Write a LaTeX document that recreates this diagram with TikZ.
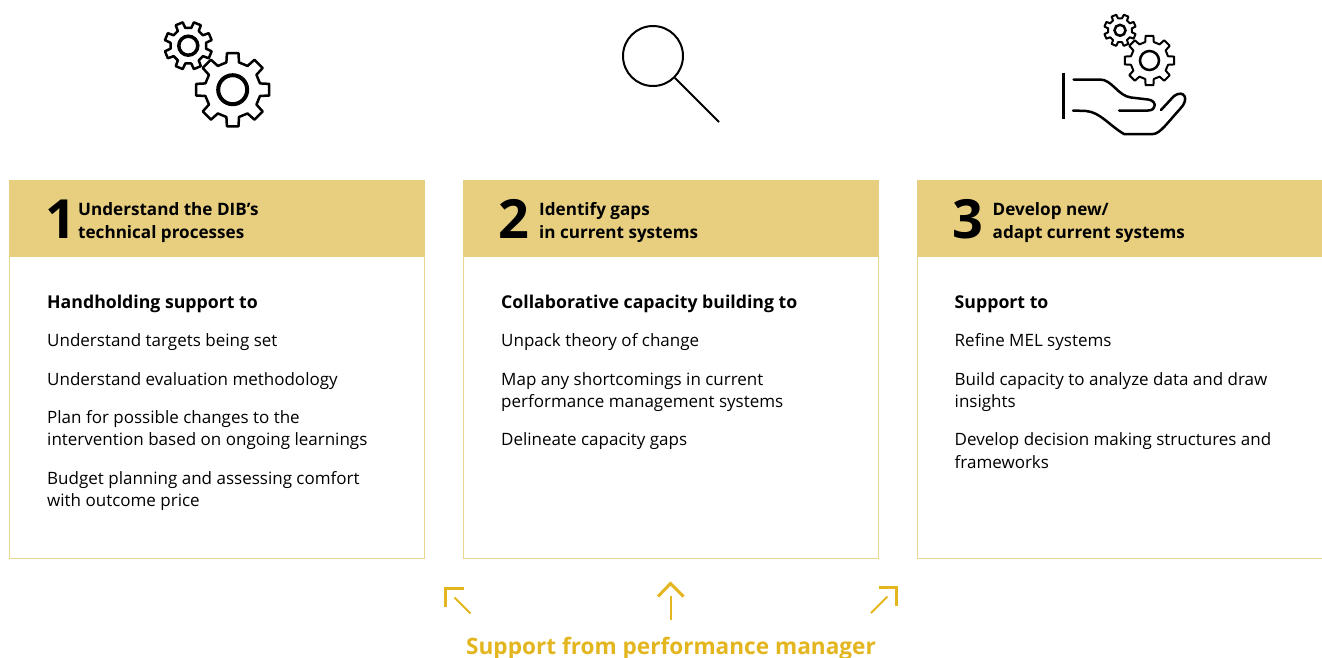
\documentclass[tikz,border=0pt]{standalone}
\usepackage{fontspec}
\setmainfont{Open Sans}
\definecolor{bandcol}{HTML}{E8CF80}
\definecolor{edgecol}{HTML}{EBD794}
\definecolor{arrowcol}{HTML}{E3B51E}
\tikzset{
    band/.style={fill=bandcol,minimum height=77pt,inner sep=0pt,anchor=north west},
    panel/.style={draw=edgecol,line width=1pt,minimum height=378pt,inner sep=0pt,anchor=north west},
    num/.style={font=\fontsize{54}{54}\selectfont\bfseries,inner sep=0pt,anchor=base west},
    head/.style={font=\fontsize{17.1}{22.5}\selectfont\bfseries,inner sep=0pt,anchor=west,align=left},
    lead/.style={font=\fontsize{17.7}{22.5}\selectfont\bfseries,inner sep=0pt,anchor=west,align=left},
    item/.style={font=\fontsize{17}{22.5}\selectfont,inner sep=0pt,anchor=west,align=left},
    icon/.style={line width=2.5pt,line join=round,line cap=round},
    stem/.style={draw=arrowcol,line width=2pt},
    tip/.style={draw=arrowcol,line width=3pt}
}
% \gearicon{x}{y}{tooth offset}{outer}{root}{hole}{hole width}{line width}
\newcommand{\gearicon}[8]{
    \begin{scope}[shift={(#1,#2)}]
    \fill[white] (0,0) circle (#4);
    \draw[icon,line width=#8] (#3-13:#5)
    \foreach \k in {0,...,7}{
        -- (#3+\k*45-13:#5) -- (#3+\k*45-9:#4) -- (#3+\k*45+9:#4) -- (#3+\k*45+13:#5)
    } -- cycle;
    \draw[line width=#7] (0,0) circle (#6);
    \end{scope}
}
\begin{document}
\begin{tikzpicture}[x=1pt,y=-1pt,line cap=butt,line join=miter]
\useasboundingbox (0,0) rectangle (1322,657);

% first column
\node[panel,minimum width=415pt] (panelA) at (9,180) {};
\node[band,minimum width=416pt] (bandA) at (8.5,180) {};
\node[num] (numA) at (45,238) {1};
\node[head] (headA) at (78,222.5) {Understand the DIB’s\\technical processes};
\node[lead] (leadA) at (47,304) {Handholding support to};
\node[item] (itemAa) at (47,342) {Understand targets being set};
\node[item] (itemAb) at (47,381) {Understand evaluation methodology};
\node[item] (itemAc) at (47,430) {Plan for possible changes to the\\intervention based on ongoing learnings};
\node[item] (itemAd) at (47,491) {Budget planning and assessing comfort\\with outcome price};

% second column
\node[panel,minimum width=415pt] (panelB) at (463,180) {};
\node[band,minimum width=416pt] (bandB) at (462.5,180) {};
\node[num] (numB) at (498,238) {2};
\node[head] (headB) at (539,222.5) {Identify gaps\\in current systems};
\node[lead] (leadB) at (501,304) {Collaborative capacity building to};
\node[item] (itemBa) at (501,342) {Unpack theory of change};
\node[item] (itemBb) at (501,392) {Map any shortcomings in current\\performance management systems};
\node[item] (itemBc) at (501,441) {Delineate capacity gaps};

% third column
\node[panel,minimum width=420pt] (panelC) at (917,180) {};
\node[band,minimum width=406pt] (bandC) at (916.5,180) {};
\node[num] (numC) at (952,238) {3};
\node[head] (headC) at (992.5,222.5) {Develop new/\\adapt current systems};
\node[lead] (leadC) at (954.5,304) {Support to};
\node[item] (itemCa) at (954.5,342) {Refine MEL systems};
\node[item] (itemCb) at (954.5,392) {Build capacity to analyze data and draw\\insights};
\node[item] (itemCc) at (954.5,450.5) {Develop decision making structures and\\frameworks};

% icons
\gearicon{188.3}{45.7}{22.5}{24}{18}{9.5}{3.5pt}{2.5pt}
\gearicon{232.7}{89.7}{0}{37}{28}{14.5}{4pt}{2.5pt}

\node[draw,line width=2pt,circle,minimum size=60pt,inner sep=0pt] (lens) at (653,56) {};
\coordinate (handle) at (719,122);
\draw[line width=2pt] (lens) -- (handle);

\gearicon{1120}{30.3}{22.5}{16}{12}{5.5}{2.5pt}{2pt}
\gearicon{1149.5}{60.5}{0}{25}{19}{9.5}{2.5pt}{2pt}
\draw[line width=3pt] (1063.3,72.7) -- (1063.3,118.5);
\draw[icon] (1073.5,79.5) -- (1100,79.5) .. controls (1112,79.5) and (1118,96) .. (1131,97.5)
    -- (1148,99.5) .. controls (1157,100.5) and (1157,110.5) .. (1148,110.5) -- (1119,110.5);
\draw[icon] (1073,110.5) -- (1086,111) .. controls (1100,112) and (1110,126) .. (1124,134)
    -- (1153,134) .. controls (1160,134) and (1168,122) .. (1180,109)
    .. controls (1190,99) and (1184,89) .. (1174,96) -- (1161,110);

% arrows
\node[font=\fontsize{22.6}{23}\selectfont\bfseries,text=arrowcol,inner sep=0pt] (support) at (671,649) {Support from performance manager};
\coordinate (tailL) at (470.5,613.5);
\coordinate (tipL) at (454.5,597.5);
\coordinate (tailM) at (670.5,619.5);
\coordinate (tipM) at (670.5,596);
\coordinate (tailR) at (871,613);
\coordinate (tipR) at (887.5,596.5);
\draw[stem] (tailL) -- (tipL);
\draw[stem] (tailM) -- (tipM);
\draw[stem] (tailR) -- (tipR);
\draw[tip] (445,606.5) -- (445,588) -- (463.5,588);
\draw[tip] (658,596.5) -- (670.5,583.5) -- (683.5,596.5);
\draw[tip] (878.5,587.5) -- (896.5,587.5) -- (896.5,605.5);

\end{tikzpicture}
\end{document}
